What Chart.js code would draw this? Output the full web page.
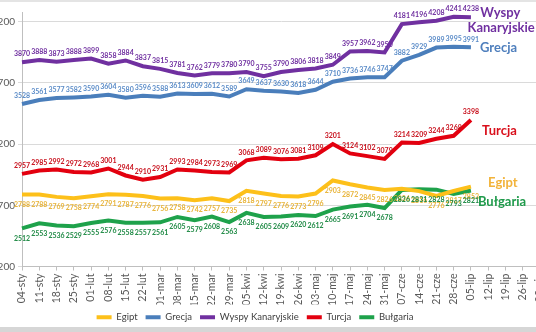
<!DOCTYPE html>
<html>
<head>
<meta charset="utf-8">
<script src="https://cdn.jsdelivr.net/npm/chart.js@4"></script>
<style>
  html, body { margin: 0; padding: 0; background: #fff; overflow: hidden; }
  body { width: 536px; height: 332px; position: relative; }
  .edge-top { position: absolute; left: 0; top: 0; width: 536px; height: 2px; background: #e4e4e4; }
  .edge-bottom { position: absolute; left: 0; top: 327px; width: 536px; height: 5px; background: #d6d6d6; }
  .wrap { position: absolute; left: -30px; top: 0; width: 600px; height: 332px; }
</style>
</head>
<body>
<div class="edge-top"></div>
<div class="wrap"><canvas id="chart"></canvas></div>
<div class="edge-bottom"></div>
<script>
// weekly prices, Jan - Jul
const weeks = ['04-sty', '11-sty', '18-sty', '25-sty', '01-lut', '08-lut', '15-lut', '22-lut',
  '01-mar', '08-mar', '15-mar', '22-mar', '29-mar', '05-kwi', '12-kwi', '19-kwi', '26-kwi',
  '03-maj', '10-maj', '17-maj', '24-maj', '31-maj', '07-cze', '14-cze', '21-cze', '28-cze',
  '05-lip', '12-lip', '19-lip', '26-lip', '02-sie'];

const yTicks = [2200, 2700, 3200, 3700, 4200];

const egipt = [2788, 2788, 2769, 2758, 2774, 2791, 2787, 2776, 2756, 2758, 2742, 2757, 2735,
  2818, 2797, 2776, 2773, 2796, 2903, 2872, 2845, 2826, 2836, 2816, 2776, 2817, 2853];
const grecja = [3528, 3561, 3577, 3582, 3590, 3604, 3580, 3596, 3588, 3613, 3609, 3612, 3589,
  3649, 3637, 3630, 3618, 3644, 3710, 3736, 3746, 3747, 3882, 3929, 3989, 3995, 3991];
const wyspy = [3870, 3888, 3873, 3888, 3899, 3858, 3884, 3837, 3815, 3781, 3762, 3779, 3780,
  3790, 3755, 3790, 3806, 3818, 3849, 3957, 3962, 3950, 4181, 4196, 4208, 4241, 4238];
const turcja = [2957, 2985, 2992, 2972, 2968, 3001, 2944, 2910, 2931, 2993, 2984, 2973, 2969,
  3068, 3089, 3076, 3081, 3109, 3201, 3124, 3102, 3079, 3214, 3209, 3244, 3268, 3398];
const bulgaria = [2512, 2553, 2536, 2529, 2555, 2576, 2558, 2557, 2561, 2605, 2579, 2608, 2563,
  2638, 2605, 2609, 2620, 2612, 2665, 2691, 2704, 2678, 2826, 2831, 2828, 2793, 2821];

const FONT = 'Lato, "Liberation Sans", sans-serif';

// small value labels next to every point
const pointLabels = {
  id: 'pointLabels',
  afterDatasetsDraw(chart) {
    const ctx = chart.ctx;
    ctx.save();
    ctx.font = 'bold 7px ' + FONT;
    ctx.textAlign = 'center';
    ctx.textBaseline = 'middle';
    chart.data.datasets.forEach((ds, i) => {
      const meta = chart.getDatasetMeta(i);
      ctx.fillStyle = ds.labelColor;
      meta.data.forEach((pt, j) => {
        ctx.fillText(ds.data[j], pt.x, pt.y + ds.labelShift);
      });
    });
    ctx.restore();
  }
};

// series names written at the right end of the lines
const endNames = [
  { text: 'Wyspy', color: '#7030a0', at: 27.7, value: 4273 },
  { text: 'Kanaryjskie', color: '#7030a0', at: 27.75, value: 4152 },
  { text: 'Grecja', color: '#4f7fbd', at: 27.6, value: 3990 },
  { text: 'Turcja', color: '#d9101c', at: 27.65, value: 3305 },
  { text: 'Egipt', color: '#f2b33a', at: 27.85, value: 2885 },
  { text: 'Bułgaria', color: '#1f9a4b', at: 27.8, value: 2732 }
];

const seriesNames = {
  id: 'seriesNames',
  afterDatasetsDraw(chart) {
    const ctx = chart.ctx;
    const xs = chart.scales.x, ys = chart.scales.y;
    ctx.save();
    ctx.font = 'bold 13px ' + FONT;
    ctx.textAlign = 'center';
    ctx.textBaseline = 'middle';
    endNames.forEach(n => {
      ctx.fillStyle = n.color;
      ctx.fillText(n.text, xs.getPixelForValue(n.at), ys.getPixelForValue(n.value));
    });
    ctx.restore();
  }
};

function series(label, data, color, labelColor, labelShift) {
  return {
    label, data,
    borderColor: color,
    backgroundColor: color,
    borderWidth: 4,
    pointRadius: 0,
    pointStyle: 'line',
    tension: 0,
    labelColor, labelShift
  };
}

new Chart(document.getElementById('chart'), {
  type: 'line',
  data: {
    labels: weeks,
    datasets: [
      series('Egipt', egipt, '#fdc01a', '#e8b43a', 10),
      series('Grecja', grecja, '#4a7ebb', '#5b8cc8', -8),
      series('Wyspy Kanaryjskie', wyspy, '#7030a0', '#7030a0', -8),
      series('Turcja', turcja, '#e3000f', '#c8101c', -8),
      series('Bułgaria', bulgaria, '#1ea24b', '#1f8a45', 10)
    ]
  },
  options: {
    responsive: true,
    maintainAspectRatio: false,
    animation: false,
    devicePixelRatio: 1,
    layout: { padding: { top: 12, right: 30, left: 0, bottom: 0 } },
    plugins: {
      tooltip: { enabled: false },
      legend: {
        position: 'bottom',
        labels: {
          usePointStyle: true,
          pointStyleWidth: 15,
          padding: 8,
          color: '#404040',
          font: { family: FONT, size: 9.5 }
        }
      }
    },
    scales: {
      x: {
        offset: false,
        grid: { drawOnChartArea: false, drawTicks: true, tickLength: 4, color: '#bfbfbf' },
        border: { color: '#bfbfbf' },
        ticks: {
          autoSkip: false, minRotation: 90, maxRotation: 90, padding: 3,
          color: '#595959', font: { family: FONT, size: 10.5 }
        },
        afterFit(s) { s.height = 38; }
      },
      y: {
        min: 2200,
        max: 4280,
        grid: { color: '#dadada', tickLength: 4 },
        border: { color: '#bfbfbf' },
        ticks: {
          padding: 3, autoSkip: false,
          color: '#595959', font: { family: FONT, size: 10 }
        },
        afterBuildTicks(s) { s.ticks = yTicks.map(v => ({ value: v })); },
        afterFit(s) { s.width = 52; }
      }
    }
  },
  plugins: [pointLabels, seriesNames]
});
</script>
</body>
</html>
